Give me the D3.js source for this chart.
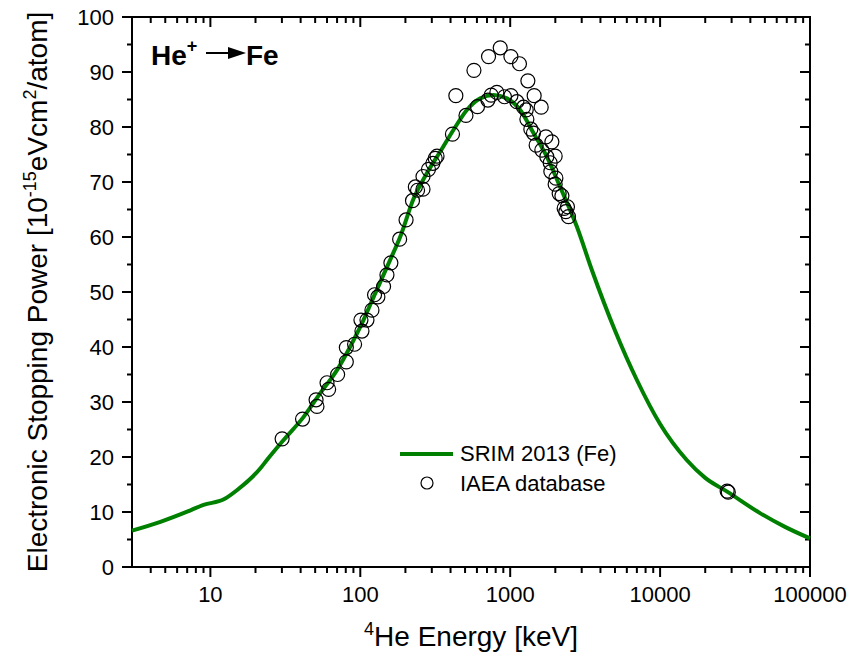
<!DOCTYPE html>
<html><head><meta charset="utf-8">
<script src="https://cdn.jsdelivr.net/npm/d3@7"></script>
<style>
html,body{margin:0;padding:0;background:#fff;}
text{font-family:Arial,"Liberation Sans",sans-serif;}
</style></head>
<body><svg id="chart" width="861" height="659"></svg>
<script>
// SRIM 2013 curve (energy keV, stopping power)
const srimEnergy = [3, 4.64, 7.0, 9.0, 12.3, 15.1, 21.5, 23.9, 30.8, 41.9, 54.1, 69.9, 85.8, 105, 126, 158, 185, 227, 278, 341, 419, 514, 631, 774, 950, 1166, 1430, 1755, 2154, 2783, 3506, 5000, 7000, 10000, 15000, 20000, 28000, 46400, 68100, 100000];
const srimPower  = [6.6, 8.2, 10.05, 11.3, 12.3, 14.0, 17.9, 19.5, 23.1, 27.3, 31.6, 35.8, 40.1, 44.9, 49.8, 55.8, 60.1, 67.0, 71.6, 75.5, 79.5, 83.1, 85.2, 85.8, 85.2, 83.1, 78.9, 74.6, 69.1, 61.9, 54.0, 43.0, 34.0, 26.0, 19.5, 16.2, 13.7, 9.8, 7.3, 5.2];
// IAEA database points
const iaeaEnergy = [30.1, 41.2, 50.7, 51.4, 60, 61.5, 70.6, 80.7, 80.7, 91.6, 102.6, 101, 110.8, 119.6, 124.5, 131, 143, 150.6, 160, 183, 202, 223, 233, 241, 262, 262, 285, 305, 316, 325, 412, 434, 507, 573, 605, 710, 717, 747, 815, 858, 916, 1011, 1011, 1108, 1153, 1227, 1279, 1312, 1445, 1292, 1373, 1430, 1610, 1490, 1730, 1897, 1626, 1755, 1995, 1848, 1867, 2017, 1995, 2122, 2213, 2291, 2410, 2448, 2350, 28000, 28500];
const iaeaPower  = [23.3, 26.9, 30.4, 29.2, 33.5, 32.3, 35.0, 37.3, 39.9, 40.5, 42.9, 44.9, 44.9, 46.7, 49.5, 49.1, 51.0, 53.1, 55.3, 59.6, 63.1, 66.6, 69.1, 68.5, 68.7, 71.0, 72.3, 73.4, 74.3, 74.7, 78.7, 85.7, 82.1, 90.3, 83.7, 84.9, 92.8, 85.8, 86.3, 94.4, 85.5, 92.8, 85.7, 84.6, 91.5, 83.6, 83.1, 88.4, 85.7, 81.4, 79.6, 78.9, 83.6, 76.7, 78.2, 77.3, 75.8, 74.6, 74.7, 73.5, 71.9, 70.7, 69.6, 67.9, 67.5, 65.2, 65.5, 63.7, 64.6, 13.8, 13.6];
const xTickValues = [10, 100, 1000, 10000, 100000];
const xTickLabels = ["10", "100", "1000", "10000", "100000"];
const yTickValues = [0, 10, 20, 30, 40, 50, 60, 70, 80, 90, 100];

const svg = d3.select("#chart");
const L = 132, R = 810, T = 17, B = 567;
const x = d3.scaleLog().domain([3, 100000]).range([L, R]);
const y = d3.scaleLinear().domain([0, 100]).range([B, T]);

// minor x ticks
const xMinor = [];
for (let d = 1; d <= 100000; d *= 10) for (let m = 2; m <= 9; m++) { const v = d * m; if (v > 3 && v < 100000 && !xTickValues.includes(v)) xMinor.push(v); }
const yMinor = d3.range(5, 100, 10);

const ax = svg.append("g").attr("stroke", "#000").attr("stroke-width", 2);
// frame
ax.append("rect").attr("x", L).attr("y", T).attr("width", R - L).attr("height", B - T).attr("fill", "none");
// bottom ticks (outward)
ax.selectAll(null).data(xTickValues).enter().append("line").attr("x1", d => x(d)).attr("x2", d => x(d)).attr("y1", B).attr("y2", B + 10);
ax.selectAll(null).data(xMinor).enter().append("line").attr("x1", d => x(d)).attr("x2", d => x(d)).attr("y1", B).attr("y2", B + 6);
// top ticks (inward)
ax.selectAll(null).data(xTickValues).enter().append("line").attr("x1", d => x(d)).attr("x2", d => x(d)).attr("y1", T).attr("y2", T + 10);
ax.selectAll(null).data(xMinor).enter().append("line").attr("x1", d => x(d)).attr("x2", d => x(d)).attr("y1", T).attr("y2", T + 6);
// left ticks (outward)
ax.selectAll(null).data(yTickValues).enter().append("line").attr("y1", d => y(d)).attr("y2", d => y(d)).attr("x1", L).attr("x2", L - 10);
ax.selectAll(null).data(yMinor).enter().append("line").attr("y1", d => y(d)).attr("y2", d => y(d)).attr("x1", L).attr("x2", L - 5);
// right ticks (inward)
ax.selectAll(null).data(yTickValues).enter().append("line").attr("y1", d => y(d)).attr("y2", d => y(d)).attr("x1", R).attr("x2", R - 10);
ax.selectAll(null).data(yMinor).enter().append("line").attr("y1", d => y(d)).attr("y2", d => y(d)).attr("x1", R).attr("x2", R - 5);

// tick labels
svg.selectAll(null).data(xTickValues).enter().append("text")
  .attr("x", d => x(d)).attr("y", 602).attr("text-anchor", "middle").attr("font-size", 22)
  .text((d, i) => xTickLabels[i]);
svg.selectAll(null).data(yTickValues).enter().append("text")
  .attr("x", 114).attr("y", d => y(d)).attr("dy", "0.36em").attr("text-anchor", "end").attr("font-size", 22)
  .text(d => d);

// axis titles
const xt = svg.append("text").attr("x", 471).attr("y", 646).attr("text-anchor", "middle").attr("font-size", 28);
xt.append("tspan").attr("font-size", 18).attr("dy", -11).text("4");
xt.append("tspan").attr("dy", 11).text("He Energy [keV]");

const yt = svg.append("text").attr("transform", "translate(47,292) rotate(-90)").attr("text-anchor", "middle").attr("font-size", 28);
yt.append("tspan").text("Electronic Stopping Power [10");
yt.append("tspan").attr("font-size", 18).attr("dy", -11).text("-15");
yt.append("tspan").attr("dy", 11).text("eVcm");
yt.append("tspan").attr("font-size", 18).attr("dy", -11).text("2");
yt.append("tspan").attr("dy", 11).text("/atom]");

// SRIM line
const line = d3.line().x((d, i) => x(srimEnergy[i])).y((d, i) => y(srimPower[i])).curve(d3.curveMonotoneX);
svg.append("path").datum(srimPower).attr("d", line).attr("fill", "none").attr("stroke", "#008000").attr("stroke-width", 4).attr("stroke-linejoin", "round");

// IAEA points
svg.selectAll(null).data(iaeaPower).enter().append("circle")
  .attr("cx", (d, i) => x(iaeaEnergy[i])).attr("cy", d => y(d)).attr("r", 7)
  .attr("fill", "none").attr("stroke", "#000").attr("stroke-width", 1.2);

// annotation He+ -> Fe
const an = svg.append("text").attr("x", 151).attr("y", 65).attr("font-size", 28).attr("font-weight", "bold");
an.append("tspan").text("He");
an.append("tspan").attr("font-size", 18).attr("dy", -13).text("+");
svg.append("line").attr("x1", 206).attr("x2", 232).attr("y1", 53).attr("y2", 53).attr("stroke", "#000").attr("stroke-width", 2);
svg.append("path").attr("d", "M228,47 L246,53 L228,59 Z").attr("fill", "#000");
svg.append("text").attr("x", 246).attr("y", 65).attr("font-size", 28).attr("font-weight", "bold").text("Fe");

// legend
svg.append("line").attr("x1", 400).attr("x2", 453).attr("y1", 454).attr("y2", 454).attr("stroke", "#008000").attr("stroke-width", 4);
svg.append("text").attr("x", 460).attr("y", 461).attr("font-size", 22).text("SRIM 2013 (Fe)");
svg.append("circle").attr("cx", 427).attr("cy", 483).attr("r", 6).attr("fill", "none").attr("stroke", "#000").attr("stroke-width", 1.2);
svg.append("text").attr("x", 460).attr("y", 491).attr("font-size", 22).text("IAEA database");
</script></body></html>
